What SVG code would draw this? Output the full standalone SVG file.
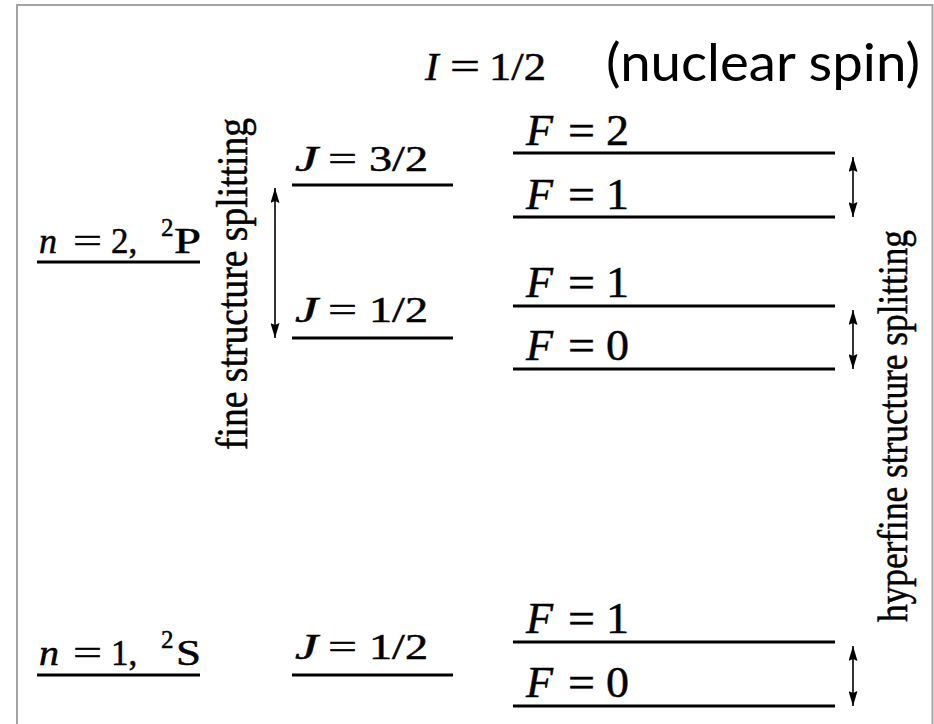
<svg xmlns="http://www.w3.org/2000/svg" width="934" height="724" viewBox="0 0 934 724">
<defs>
<style>
.m{font-family:"Liberation Serif","Times New Roman",serif;fill:#000;stroke:#000;stroke-width:0.5}
.i{font-style:italic}
.lv{stroke:#000;stroke-width:3;fill:none}
.ar{stroke:#000;stroke-width:1.6;fill:none;marker-start:url(#ah);marker-end:url(#ah)}
.fr{stroke:#a3a3a3;stroke-width:2;fill:none}
</style>
<marker id="ah" viewBox="0 0 15 9" refX="15" refY="4.5" markerWidth="15" markerHeight="9" markerUnits="userSpaceOnUse" orient="auto-start-reverse">
<path d="M0,0 L15,4.5 L0,9 L2,4.5 z" fill="#000"/>
</marker>
</defs>
<rect width="934" height="724" fill="#fff"/>
<path class="fr" d="M17,724 V5 H932.5 V724"/>

<g id="title">
<text class="m i" x="425" y="80" font-size="41">I</text>
<text class="m" x="450" y="80" font-size="41" textLength="30" lengthAdjust="spacingAndGlyphs">=</text>
<text class="m" x="489" y="80" font-size="41" textLength="57" lengthAdjust="spacingAndGlyphs">1/2</text>
<text x="606" y="81" font-family="Lato, 'Liberation Sans', Arial, sans-serif" font-size="52" textLength="314" lengthAdjust="spacingAndGlyphs">(nuclear spin)</text>
</g>

<g id="n2">
<line class="lv" x1="37" y1="262" x2="200" y2="262"/>
<text class="m i" x="39" y="253" font-size="35" textLength="18" lengthAdjust="spacingAndGlyphs">n</text>
<text class="m" x="73" y="253" font-size="35" textLength="29" lengthAdjust="spacingAndGlyphs">=</text>
<text class="m" x="111" y="253" font-size="35">2,</text>
<text class="m" x="161" y="236" font-size="25">2</text>
<text class="m" x="174" y="253" font-size="35" textLength="27" lengthAdjust="spacingAndGlyphs">P</text>
</g>

<g id="n1">
<line class="lv" x1="37" y1="675" x2="200" y2="675"/>
<text class="m i" x="39" y="665" font-size="35" textLength="20" lengthAdjust="spacingAndGlyphs">n</text>
<text class="m" x="73" y="665" font-size="35" textLength="29" lengthAdjust="spacingAndGlyphs">=</text>
<text class="m" x="111" y="665" font-size="35">1,</text>
<text class="m" x="161" y="648" font-size="25">2</text>
<text class="m" x="176" y="665" font-size="35" textLength="25" lengthAdjust="spacingAndGlyphs">S</text>
</g>

<g id="j32">
<line class="lv" x1="292" y1="185" x2="453" y2="185"/>
<text class="m i" x="295" y="171" font-size="35" textLength="23" lengthAdjust="spacingAndGlyphs">J</text>
<text class="m" x="328" y="171" font-size="35" textLength="29" lengthAdjust="spacingAndGlyphs">=</text>
<text class="m" x="369" y="171" font-size="35" textLength="59" lengthAdjust="spacingAndGlyphs">3/2</text>
</g>

<g id="j12a">
<line class="lv" x1="292" y1="338" x2="453" y2="338"/>
<text class="m i" x="295" y="322" font-size="35" textLength="23" lengthAdjust="spacingAndGlyphs">J</text>
<text class="m" x="328" y="322" font-size="35" textLength="29" lengthAdjust="spacingAndGlyphs">=</text>
<text class="m" x="369" y="322" font-size="35" textLength="59" lengthAdjust="spacingAndGlyphs">1/2</text>
</g>

<g id="j12b">
<line class="lv" x1="292" y1="675" x2="453" y2="675"/>
<text class="m i" x="295" y="659" font-size="35" textLength="23" lengthAdjust="spacingAndGlyphs">J</text>
<text class="m" x="328" y="659" font-size="35" textLength="29" lengthAdjust="spacingAndGlyphs">=</text>
<text class="m" x="369" y="659" font-size="35" textLength="59" lengthAdjust="spacingAndGlyphs">1/2</text>
</g>

<g id="f2">
<line class="lv" x1="513" y1="153" x2="835" y2="153"/>
<text class="m i" x="526" y="145" font-size="45" textLength="27" lengthAdjust="spacingAndGlyphs">F</text>
<text class="m" x="568" y="145" font-size="45" textLength="27" lengthAdjust="spacingAndGlyphs">=</text>
<text class="m" x="606" y="145" font-size="45" textLength="23" lengthAdjust="spacingAndGlyphs">2</text>
</g>
<g id="f1a">
<line class="lv" x1="513" y1="217" x2="835" y2="217"/>
<text class="m i" x="526" y="209" font-size="45" textLength="27" lengthAdjust="spacingAndGlyphs">F</text>
<text class="m" x="568" y="209" font-size="45" textLength="27" lengthAdjust="spacingAndGlyphs">=</text>
<text class="m" x="606" y="209" font-size="45" textLength="23" lengthAdjust="spacingAndGlyphs">1</text>
</g>
<g id="f1b">
<line class="lv" x1="513" y1="306" x2="835" y2="306"/>
<text class="m i" x="526" y="297" font-size="45" textLength="27" lengthAdjust="spacingAndGlyphs">F</text>
<text class="m" x="568" y="297" font-size="45" textLength="27" lengthAdjust="spacingAndGlyphs">=</text>
<text class="m" x="606" y="297" font-size="45" textLength="23" lengthAdjust="spacingAndGlyphs">1</text>
</g>
<g id="f0a">
<line class="lv" x1="513" y1="369" x2="835" y2="369"/>
<text class="m i" x="526" y="360" font-size="45" textLength="27" lengthAdjust="spacingAndGlyphs">F</text>
<text class="m" x="568" y="360" font-size="45" textLength="27" lengthAdjust="spacingAndGlyphs">=</text>
<text class="m" x="606" y="360" font-size="45" textLength="23" lengthAdjust="spacingAndGlyphs">0</text>
</g>
<g id="f1c">
<line class="lv" x1="513" y1="642" x2="835" y2="642"/>
<text class="m i" x="526" y="633" font-size="45" textLength="27" lengthAdjust="spacingAndGlyphs">F</text>
<text class="m" x="568" y="633" font-size="45" textLength="27" lengthAdjust="spacingAndGlyphs">=</text>
<text class="m" x="606" y="633" font-size="45" textLength="23" lengthAdjust="spacingAndGlyphs">1</text>
</g>
<g id="f0b">
<line class="lv" x1="513" y1="706" x2="835" y2="706"/>
<text class="m i" x="526" y="697" font-size="45" textLength="27" lengthAdjust="spacingAndGlyphs">F</text>
<text class="m" x="568" y="697" font-size="45" textLength="27" lengthAdjust="spacingAndGlyphs">=</text>
<text class="m" x="606" y="697" font-size="45" textLength="23" lengthAdjust="spacingAndGlyphs">0</text>
</g>

<g id="fine-label">
<text class="m" transform="translate(247,450) rotate(-90)" font-size="44" stroke-width="0.3" textLength="332" lengthAdjust="spacingAndGlyphs">fine structure splitting</text>
</g>
<g id="hyperfine-label">
<text class="m" transform="translate(907,622) rotate(-90)" font-size="42" stroke-width="0.3" textLength="392" lengthAdjust="spacingAndGlyphs">hyperfine structure splitting</text>
</g>

<g id="connectors">
<line class="ar" x1="275" y1="188" x2="275" y2="338"/>
<line class="ar" x1="853" y1="157" x2="853" y2="217"/>
<line class="ar" x1="853" y1="310" x2="853" y2="369"/>
<line class="ar" x1="853" y1="646" x2="853" y2="706"/>
</g>
</svg>
